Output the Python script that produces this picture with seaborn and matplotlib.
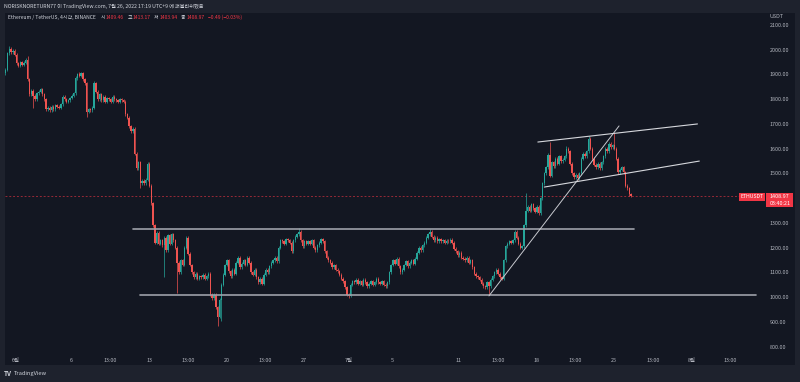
import numpy as np
import pandas as pd
import matplotlib
matplotlib.use("Agg")
import matplotlib.pyplot as plt
import seaborn as sns
from matplotlib.patches import Rectangle

# ---------------- data (4h candles, ETH/USDT) ----------------
first_open = 1905
closes = [
    1920, 1985, 2005, 1990, 1995, 1980, 1945, 1935, 1950, 1940, 1948, 1960,
    1880, 1820, 1835, 1815, 1800, 1825, 1830, 1840, 1820, 1800, 1760, 1765,
    1755, 1770, 1760, 1775, 1770, 1765, 1780, 1810, 1800, 1790, 1795, 1805,
    1815, 1825, 1885, 1900, 1895, 1905, 1880, 1865, 1750, 1760, 1755, 1765,
    1865, 1830, 1800, 1820, 1795, 1810, 1790, 1805, 1800, 1790, 1810, 1800,
    1795, 1790, 1800, 1795, 1790, 1740, 1725, 1690, 1670, 1680, 1580, 1520,
    1545, 1460, 1470, 1460, 1475, 1540, 1450, 1380, 1290, 1220, 1260, 1215,
    1230, 1210, 1240, 1190, 1250, 1215, 1255, 1230, 1200, 1140, 1100, 1150,
    1130, 1200, 1240, 1175, 1130, 1100, 1080, 1095, 1075, 1085, 1080, 1090,
    1075, 1085, 1095, 1010, 995, 1010, 960, 920, 990, 1050, 1090, 1130,
    1150, 1105, 1085, 1110, 1095, 1140, 1160, 1120, 1135, 1150, 1130, 1160,
    1140, 1100, 1090, 1110, 1080, 1060, 1075, 1055, 1090, 1110, 1100, 1125,
    1140, 1150, 1160, 1145, 1200, 1230, 1225, 1215, 1235, 1230, 1220, 1185,
    1230, 1245, 1255, 1265, 1230, 1205, 1225, 1215, 1225, 1215, 1230, 1200,
    1190, 1210, 1220, 1235, 1225, 1185, 1160, 1150, 1140, 1120, 1130, 1110,
    1105, 1090, 1075, 1065, 1040, 1010, 1005, 1050, 1065, 1060, 1070, 1055,
    1065, 1050, 1070, 1060, 1045, 1055, 1065, 1050, 1060, 1075, 1060, 1055,
    1065, 1050, 1045, 1060, 1100, 1130, 1150, 1135, 1155, 1125, 1100, 1110,
    1130, 1145, 1125, 1140, 1150, 1135, 1155, 1180, 1200, 1190, 1210, 1220,
    1240, 1255, 1265, 1245, 1230, 1240, 1225, 1235, 1225, 1230, 1220, 1228,
    1225, 1232, 1220, 1195, 1185, 1170, 1180, 1160, 1155, 1150, 1160, 1140,
    1150, 1120, 1095, 1085, 1080, 1070, 1055, 1045, 1040, 1060, 1045, 1070,
    1085, 1100, 1110, 1095, 1080, 1075, 1150, 1205, 1215, 1225, 1220, 1230,
    1265, 1240, 1215, 1200, 1205, 1290, 1350, 1365, 1350, 1375, 1360, 1345,
    1365, 1340, 1400, 1460, 1500, 1525, 1575, 1490, 1545, 1530, 1560, 1540,
    1570, 1550, 1555, 1570, 1600, 1590, 1540, 1500, 1485, 1495, 1480, 1500,
    1560, 1580, 1570, 1590, 1640, 1600, 1560, 1535, 1525, 1540, 1520, 1545,
    1570, 1600, 1590, 1620, 1605, 1615, 1600, 1560, 1505, 1515, 1525, 1505,
    1450, 1440, 1415, 1408.97,
]
high_spikes = {2: 2015, 12: 1975, 38: 1895, 40: 1912, 48: 1872, 70: 1600,
               77: 1548, 159: 1278, 230: 1276, 282: 1420, 295: 1627,
               304: 1612, 316: 1650, 330: 1663}
low_spikes = {15: 1765, 44: 1728, 86: 1080, 93: 1015, 115: 883, 117: 905,
              186: 995, 262: 1010, 73: 1440}

start_time = "2022-05-31 01:00"
last_price = 1408.97
legend_vals = ["1409.46", "1413.17", "1403.94", "1408.97"]
legend_keys = ["시", "고", "저", "종"]
change_txt = "\u22120.49 (\u22120.03%)"

# 1400.00 is hidden behind the last-price tag in the reference
y_ticks = [800, 900, 1000, 1100, 1200, 1300, 1500, 1600, 1700, 1800, 1900, 2000, 2100]
x_tick_times = ["2022-06-01 00:00", "2022-06-06 00:00", "2022-06-09 13:00", "2022-06-13 00:00",
                "2022-06-16 13:00", "2022-06-20 00:00", "2022-06-23 13:00", "2022-06-27 00:00",
                "2022-07-01 00:00", "2022-07-05 00:00", "2022-07-11 00:00", "2022-07-14 13:00",
                "2022-07-18 00:00", "2022-07-21 13:00", "2022-07-25 00:00", "2022-07-28 13:00",
                "2022-08-01 00:00", "2022-08-04 13:00"]
x_tick_labels = ["6월", "6", "13:00", "13", "13:00", "20", "13:00", "27", "7월", "5",
                 "11", "13:00", "18", "13:00", "25", "13:00", "8월", "13:00"]

# user drawings (time, price)
drawings = {
    "resist": (["2022-06-11 13:00", "2022-07-26 19:00"], [1277, 1277]),
    "support": (["2022-06-12 05:00", "2022-08-06 19:30"], [1007, 1007]),
    "rising": (["2022-07-13 17:00", "2022-07-25 11:00"], [1005, 1692]),
    "chan_top": (["2022-07-18 03:00", "2022-08-01 13:00"], [1627, 1700]),
    "chan_bot": (["2022-07-18 17:00", "2022-08-01 17:00"], [1445, 1550]),
}

# ---------------- build frame ----------------
t0 = pd.Timestamp(start_time)
step = pd.Timedelta("4h")
df = pd.DataFrame({"time": pd.date_range(t0, periods=len(closes), freq="4h"),
                   "close": closes})
df["open"] = [first_open] + closes[:-1]
WICK = 6
df["high"] = df[["open", "close"]].max(axis=1) + WICK
df["low"] = df[["open", "close"]].min(axis=1) - WICK
for k, v in high_spikes.items():
    df.loc[k, "high"] = max(v, df.loc[k, "high"])
for k, v in low_spikes.items():
    df.loc[k, "low"] = min(v, df.loc[k, "low"])
df["x"] = (df["time"] - t0) / step

def tx(s):
    return (pd.Timestamp(s) - t0) / step

# ---------------- style ----------------
BG = "#131722"
FRAME = "#1e222d"
UP = "#26a69a"
DN = "#ef5350"
TXT = "#b2b5be"
sns.set_theme(style="dark")
plt.rcParams["font.family"] = ["Noto Sans CJK KR", "DejaVu Sans"]
plt.rcParams["axes.unicode_minus"] = False

W, H = 800, 382
fig = plt.figure(figsize=(W / 100, H / 100), dpi=100, facecolor=FRAME)

def fx(x):
    return x / W

def fy(y):
    return 1 - y / H

fig.patches.append(Rectangle((fx(5), fy(365)), fx(795) - fx(5), fy(13) - fy(365),
                             transform=fig.transFigure, facecolor=BG, edgecolor="none", zorder=-5))

ax = fig.add_axes([fx(5), fy(352), fx(765) - fx(5), fy(13) - fy(352)])
ax.set_zorder(1)
ax.set_facecolor(BG)
for s in ax.spines.values():
    s.set_visible(False)
ax.grid(False)

# candles
up = df["close"] >= df["open"]
cols = np.where(up, UP, DN)
ax.vlines(df["x"], df["low"], df["high"], colors=cols, linewidth=0.5, zorder=2)
body_lo = df[["open", "close"]].min(axis=1)
body_h = (df["close"] - df["open"]).abs().clip(lower=3)
ax.bar(df["x"], body_h, bottom=body_lo, width=0.74, color=cols, linewidth=0, zorder=3)

# drawings via seaborn
styles = {"resist": ("#9ea1a9", 1.2), "support": ("#9ea1a9", 1.2),
          "rising": ("#c8cad0", 0.7), "chan_top": ("#d6d8dd", 0.8), "chan_bot": ("#d6d8dd", 0.8)}
for name, (ts, ps) in drawings.items():
    d = pd.DataFrame({"x": [tx(t) for t in ts], "price": ps})
    c, lw = styles[name]
    sns.lineplot(data=d, x="x", y="price", ax=ax, color=c, linewidth=lw, zorder=4,
                 estimator=None, sort=False)

ax.axhline(last_price, color="#f23645", linestyle=(0, (2.5, 2.5)), linewidth=0.55, alpha=0.75, zorder=1)

ax.set_xlim(-0.27, 411.6)
ax.set_ylim(778.3, 2148.5)
ax.set_xlabel("")
ax.set_ylabel("")
ax.yaxis.tick_right()
ax.set_yticks(y_ticks)
ax.set_yticklabels([f"{v:.2f}" for v in y_ticks])
ax.set_xticks([tx(t) for t in x_tick_times])
ax.set_xticklabels(x_tick_labels)
ax.tick_params(axis="y", length=0, pad=3.6, labelsize=3.9, labelcolor=TXT)
ax.tick_params(axis="x", length=0, pad=4.5, labelsize=3.9, labelcolor=TXT)

# price axis header
fig.text(fx(770), fy(16.5), "USDT", fontsize=3.9, color=TXT, va="center", ha="left")

# last price labels
fig.patches.append(Rectangle((fx(766), fy(207)), fx(793) - fx(766), fy(192.5) - fy(207),
                             transform=fig.transFigure, facecolor="#f23645", edgecolor="none", zorder=5))
fig.text(fx(770), fy(196.8), "1408.97", fontsize=3.9, color="white", va="center", ha="left", zorder=6)
fig.text(fx(770), fy(203.3), "03:40:21", fontsize=3.9, color="white", va="center", ha="left", zorder=6)
fig.patches.append(Rectangle((fx(739), fy(201)), fx(765) - fx(739), fy(192.5) - fy(201),
                             transform=fig.transFigure, facecolor="#f23645", edgecolor="none", zorder=5))
fig.text(fx(752), fy(196.8), "ETHUSDT", fontsize=3.7, color="white", va="center", ha="center", zorder=6)

# header lines
fig.text(fx(4), fy(6.5), "NORISKNORETURN77 이 TradingView.com, 7월 26, 2022 17:19 UTC+9 에 퍼블리쉬했음",
         fontsize=3.75, color="#d1d4dc", va="center", ha="left")

renderer = fig.canvas.get_renderer()
xpos = 8.0
def piece(txt, color, gap=0.0):
    global xpos
    t = fig.text(fx(xpos), fy(17.5), txt, fontsize=3.6, color=color, va="center", ha="left", zorder=6)
    bb = t.get_window_extent(renderer=renderer)
    xpos += bb.width + gap

piece("Ethereum / TetherUS, 4시간, BINANCE", "#d1d4dc", 5)
for k, v in zip(legend_keys, legend_vals):
    piece(k, "#d1d4dc", 0.5)
    piece(v, "#f23645", 3.5)
piece(change_txt, "#f23645")

# footer logo
fig.text(fx(4), fy(374), "TV", fontsize=4.6, color="#d1d4dc", fontweight="bold", va="center", ha="left")
fig.text(fx(13.5), fy(374), "TradingView", fontsize=4.1, color="#d1d4dc", va="center", ha="left")

fig.savefig("out.png", dpi=100, facecolor=FRAME)
